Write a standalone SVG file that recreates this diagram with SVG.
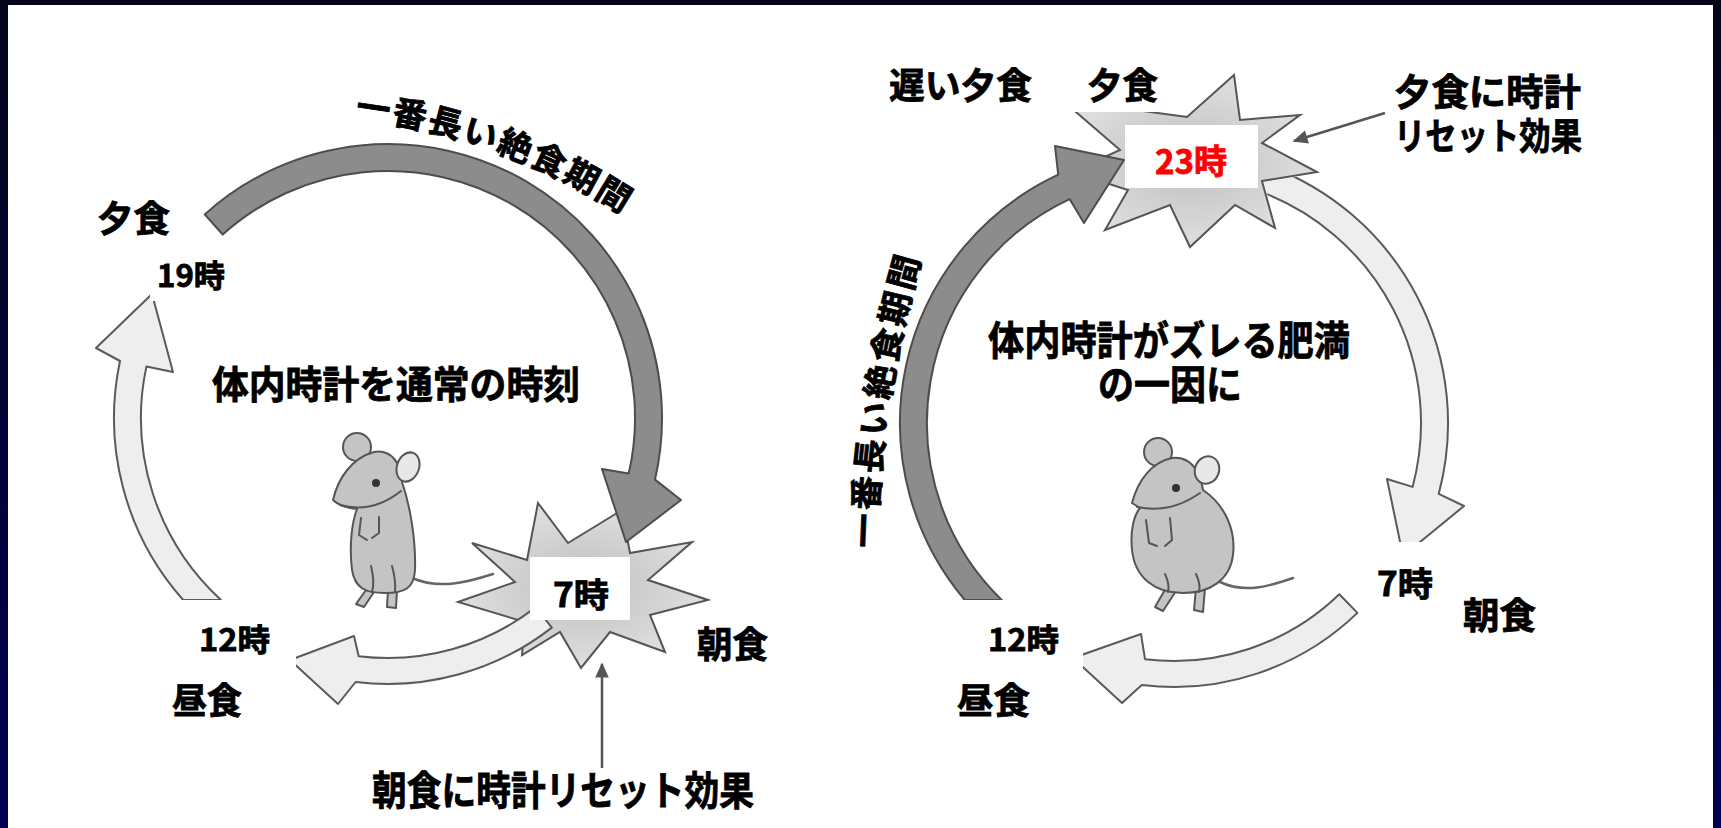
<svg xmlns="http://www.w3.org/2000/svg" width="1721" height="828" viewBox="0 0 1721 828">
  <defs>
    <linearGradient id="frame" x1="0" y1="0" x2="0" y2="1">
      <stop offset="0" stop-color="#05051a"/>
      <stop offset="1" stop-color="#000052"/>
    </linearGradient>
    <radialGradient id="burstFill" cx="0.5" cy="0.5" r="0.6">
      <stop offset="0" stop-color="#bebebe"/>
      <stop offset="1" stop-color="#e6e6e6"/>
    </radialGradient>
    <marker id="head" viewBox="0 0 10 10" refX="9" refY="5" markerWidth="7" markerHeight="6" orient="auto" markerUnits="strokeWidth">
      <path d="M0,0.5 L10,5 L0,9.5 Z" fill="#555"/>
    </marker>
    <!-- starburst outlines, reused by the nodes and by the mask -->
    <path id="burst7" d="M538,503 L568,543 L622,510 L630,553 L692,542 L648,580 L708,600 L650,615 L665,652 L610,632 L581,668 L560,632 L522,655 L525,622 L458,602 L515,582 L472,543 L527,560 Z"/>
    <path id="burst23" d="M1234,75 L1240,120 L1300,115 L1262,143 L1317,172 L1262,181 L1275,228 L1235,205 L1190,247 L1170,205 L1105,230 L1128,190 L1072,172 L1120,150 L1062,100 L1187,117 Z"/>
    <mask id="behind23" maskUnits="userSpaceOnUse" x="0" y="0" width="1721" height="828">
      <rect x="0" y="0" width="1721" height="828" fill="#fff"/>
      <use href="#burst23" fill="#000" stroke="#000" stroke-width="3"/>
    </mask>
    <path id="arcTextL" d="M355,118 A634,634 0 0 1 686,261"/>
    <path id="arcTextR" d="M876,548 Q880,395 925,245"/>
    <style>
      .t { font-family: 'Noto Sans CJK JP', 'Noto Sans CJK SC', sans-serif; font-weight: 700; fill: #000; stroke: #000; stroke-width: 0.8; }
      .red { fill: #ff0000; stroke: #ff0000; }
      .dark { fill: #8c8c8c; stroke: #4d4d4d; stroke-width: 2; stroke-linejoin: round; }
      .light { fill: #eeeeee; stroke: #5a5a5a; stroke-width: 2; stroke-linejoin: round; }
      .burst { fill: url(#burstFill); stroke: #555; stroke-width: 2; }
      .rat { fill: #c4c4c4; stroke: #555; stroke-width: 2; stroke-linejoin: round; stroke-linecap: round; }
      .ear { fill: #e8e8e8; stroke: #555; stroke-width: 2; }
      .ratline { fill: none; stroke: #555; stroke-width: 2; stroke-linecap: round; stroke-linejoin: round; }
      .tail { fill: none; stroke: #666; stroke-width: 2.5; stroke-linecap: round; }
      .pointer { fill: none; stroke: #555; stroke-width: 2.5; marker-end: url(#head); }
      .box { fill: #fff; }
    </style>
  </defs>

  <!-- frame and white panel -->
  <rect x="0" y="0" width="1721" height="828" fill="url(#frame)"/>
  <rect x="8" y="5" width="1705" height="823" fill="#fff"/>

  <!-- starburst nodes -->
  <g id="burst-7am">
    <use href="#burst7" class="burst"/>
  </g>
  <g id="burst-23pm">
    <use href="#burst23" class="burst"/>
  </g>

  <!-- rats -->
  <g id="rat-left">
    <circle cx="357" cy="447" r="14" class="rat"/>
    <path class="tail" d="M412,578 C440,590 468,582 493,574"/>
    <path class="rat" d="M366,590 L356,604 L364,607 L374,592 Z"/>
    <path class="rat" d="M388,590 L387,607 L396,608 L397,590 Z"/>
    <path class="rat" d="M333,500 C338,478 352,458 374,452 C392,449 402,465 402,482 C410,505 416,540 415,570 C414,588 405,593 385,593 C365,593 355,588 352,570 C349,545 352,522 357,509 C348,508 338,505 333,500 Z"/>
    <ellipse cx="408" cy="467" rx="11" ry="15" transform="rotate(20 408 467)" class="ear"/>
    <circle cx="376" cy="483" r="4" fill="#333"/>
    <path class="ratline" d="M340,505 Q372,514 401,491"/>
    <path class="ratline" d="M361,518 L359,535 L367,540 M379,517 L379,533 L372,538"/>
    <path class="ratline" d="M371,566 Q375,582 372,592 M392,566 Q396,580 395,592"/>
  </g>
  <g id="rat-right">
    <circle cx="1158" cy="452" r="14" class="rat"/>
    <path class="tail" d="M1220,582 C1245,594 1270,586 1293,578"/>
    <path class="rat" d="M1166,588 L1155,607 L1163,611 L1176,591 Z"/>
    <path class="rat" d="M1196,588 L1194,610 L1203,612 L1205,588 Z"/>
    <path class="rat" d="M1132,503 C1138,480 1152,462 1172,458 C1190,456 1200,470 1203,490 C1225,505 1236,530 1233,555 C1230,580 1210,593 1183,593 C1155,593 1135,578 1132,550 C1130,530 1134,515 1140,508 Z"/>
    <ellipse cx="1207" cy="470" rx="12" ry="14" transform="rotate(20 1207 470)" class="ear"/>
    <circle cx="1176" cy="488" r="4" fill="#333"/>
    <path class="ratline" d="M1137,507 Q1170,514 1200,493"/>
    <path class="ratline" d="M1146,520 L1149,543 L1157,546 M1170,518 L1172,540 L1165,546"/>
    <path class="ratline" d="M1165,574 Q1170,585 1168,592 M1196,574 Q1201,585 1199,592"/>
  </g>

  <!-- connectors: the daily cycle arrows and the pointers -->
  <g id="connectors">
    <!-- left cycle -->
    <path id="fast-left" class="dark" d="M204.7,214.4 A274,274 0 0 1 655,479.6 L681,500 L626,542 L602,469 L628.7,473.6 A247,247 0 0 0 222.7,234.5 Z"/>
    <path id="noon-to-evening-left" class="light" d="M183.2,600 A274,274 0 0 1 120,361 L96,348 L152,294 L173,372 L146.4,366.6 A247,247 0 0 0 221,600 Z"/>
    <path id="morning-to-noon-left" class="light" d="M551.8,627.6 A266,266 0 0 1 355.6,682 L338,704 L290,660 L354,636 L358.7,656.2 A240,240 0 0 0 535.8,607.1 Z"/>
    <!-- right cycle -->
    <path id="fast-right" class="dark" d="M964.8,600 A274,274 0 0 1 1058.2,174.7 L1055,146 L1124,160 L1084,223 L1069.6,199.1 A247,247 0 0 0 1001.7,600 Z"/>
    <path id="night-to-morning-right" class="light" mask="url(#behind23)" d="M1267.7,165.5 A274,274 0 0 1 1438.7,493.9 L1464,506 L1403,556 L1387,479 L1412.6,486.9 A247,247 0 0 0 1258.5,190.9 Z"/>
    <path id="morning-to-noon-right" class="light" d="M1357.4,612.9 A264,264 0 0 1 1141.8,685 L1122,703 L1073,658 L1141,634 L1145,659.2 A238,238 0 0 0 1339.3,594.2 Z"/>
    <!-- pointers to the reset events -->
    <path id="pointer-breakfast" class="pointer" d="M602,768 L602,664"/>
    <path id="pointer-dinner" class="pointer" d="M1385,113 L1294,141"/>
  </g>

  <!-- white label backgrounds -->
  <rect class="box" x="150" y="248" width="90" height="53"/>
  <rect class="box" x="150" y="600" width="146" height="76"/>
  <rect class="box" x="940" y="600" width="143" height="78"/>
  <rect class="box" x="1365" y="542" width="80" height="60"/>
  <rect class="box" x="1040" y="55" width="150" height="57"/>
  <rect class="box" x="530" y="557" width="100" height="63"/>
  <rect class="box" x="1125" y="125" width="133" height="63"/>

  <!-- left panel labels -->
  <g id="labels-left">
    <text class="t" x="97" y="232" font-size="36" textLength="73" lengthAdjust="spacingAndGlyphs">夕食</text>
    <text class="t" x="157" y="287" font-size="31" textLength="68" lengthAdjust="spacingAndGlyphs">19時</text>
    <text class="t" font-size="34" letter-spacing="2"><textPath href="#arcTextL">一番長い絶食期間</textPath></text>
    <text class="t" x="212" y="398" font-size="38" textLength="368" lengthAdjust="spacingAndGlyphs">体内時計を通常の時刻</text>
    <text class="t" x="553" y="607" font-size="33" textLength="56" lengthAdjust="spacingAndGlyphs">7時</text>
    <text class="t" x="199" y="651" font-size="31" textLength="71" lengthAdjust="spacingAndGlyphs">12時</text>
    <text class="t" x="172" y="714" font-size="36" textLength="70" lengthAdjust="spacingAndGlyphs">昼食</text>
    <text class="t" x="697" y="658" font-size="36" textLength="71" lengthAdjust="spacingAndGlyphs">朝食</text>
    <text class="t" x="372" y="805" font-size="40" textLength="382" lengthAdjust="spacingAndGlyphs">朝食に時計リセット効果</text>
  </g>

  <!-- right panel labels -->
  <g id="labels-right">
    <text class="t" x="889" y="99" font-size="36" textLength="143" lengthAdjust="spacingAndGlyphs">遅い夕食</text>
    <text class="t" x="1087" y="99" font-size="36" textLength="71" lengthAdjust="spacingAndGlyphs">夕食</text>
    <text class="t" font-size="37">
      <tspan x="1394" y="106" textLength="187" lengthAdjust="spacingAndGlyphs">夕食に時計</tspan>
      <tspan x="1394" y="150" textLength="188" lengthAdjust="spacingAndGlyphs">リセット効果</tspan>
    </text>
    <text class="t red" x="1155" y="174" font-size="34" textLength="72" lengthAdjust="spacingAndGlyphs">23時</text>
    <text class="t" font-size="34" letter-spacing="3"><textPath href="#arcTextR">一番長い絶食期間</textPath></text>
    <text class="t" font-size="40">
      <tspan x="988" y="355" textLength="362" lengthAdjust="spacingAndGlyphs">体内時計がズレる肥満</tspan>
      <tspan x="1098" y="399" textLength="144" lengthAdjust="spacingAndGlyphs">の一因に</tspan>
    </text>
    <text class="t" x="1377" y="596" font-size="33" textLength="56" lengthAdjust="spacingAndGlyphs">7時</text>
    <text class="t" x="1463" y="629" font-size="36" textLength="73" lengthAdjust="spacingAndGlyphs">朝食</text>
    <text class="t" x="988" y="651" font-size="31" textLength="71" lengthAdjust="spacingAndGlyphs">12時</text>
    <text class="t" x="957" y="714" font-size="36" textLength="73" lengthAdjust="spacingAndGlyphs">昼食</text>
  </g>
</svg>
